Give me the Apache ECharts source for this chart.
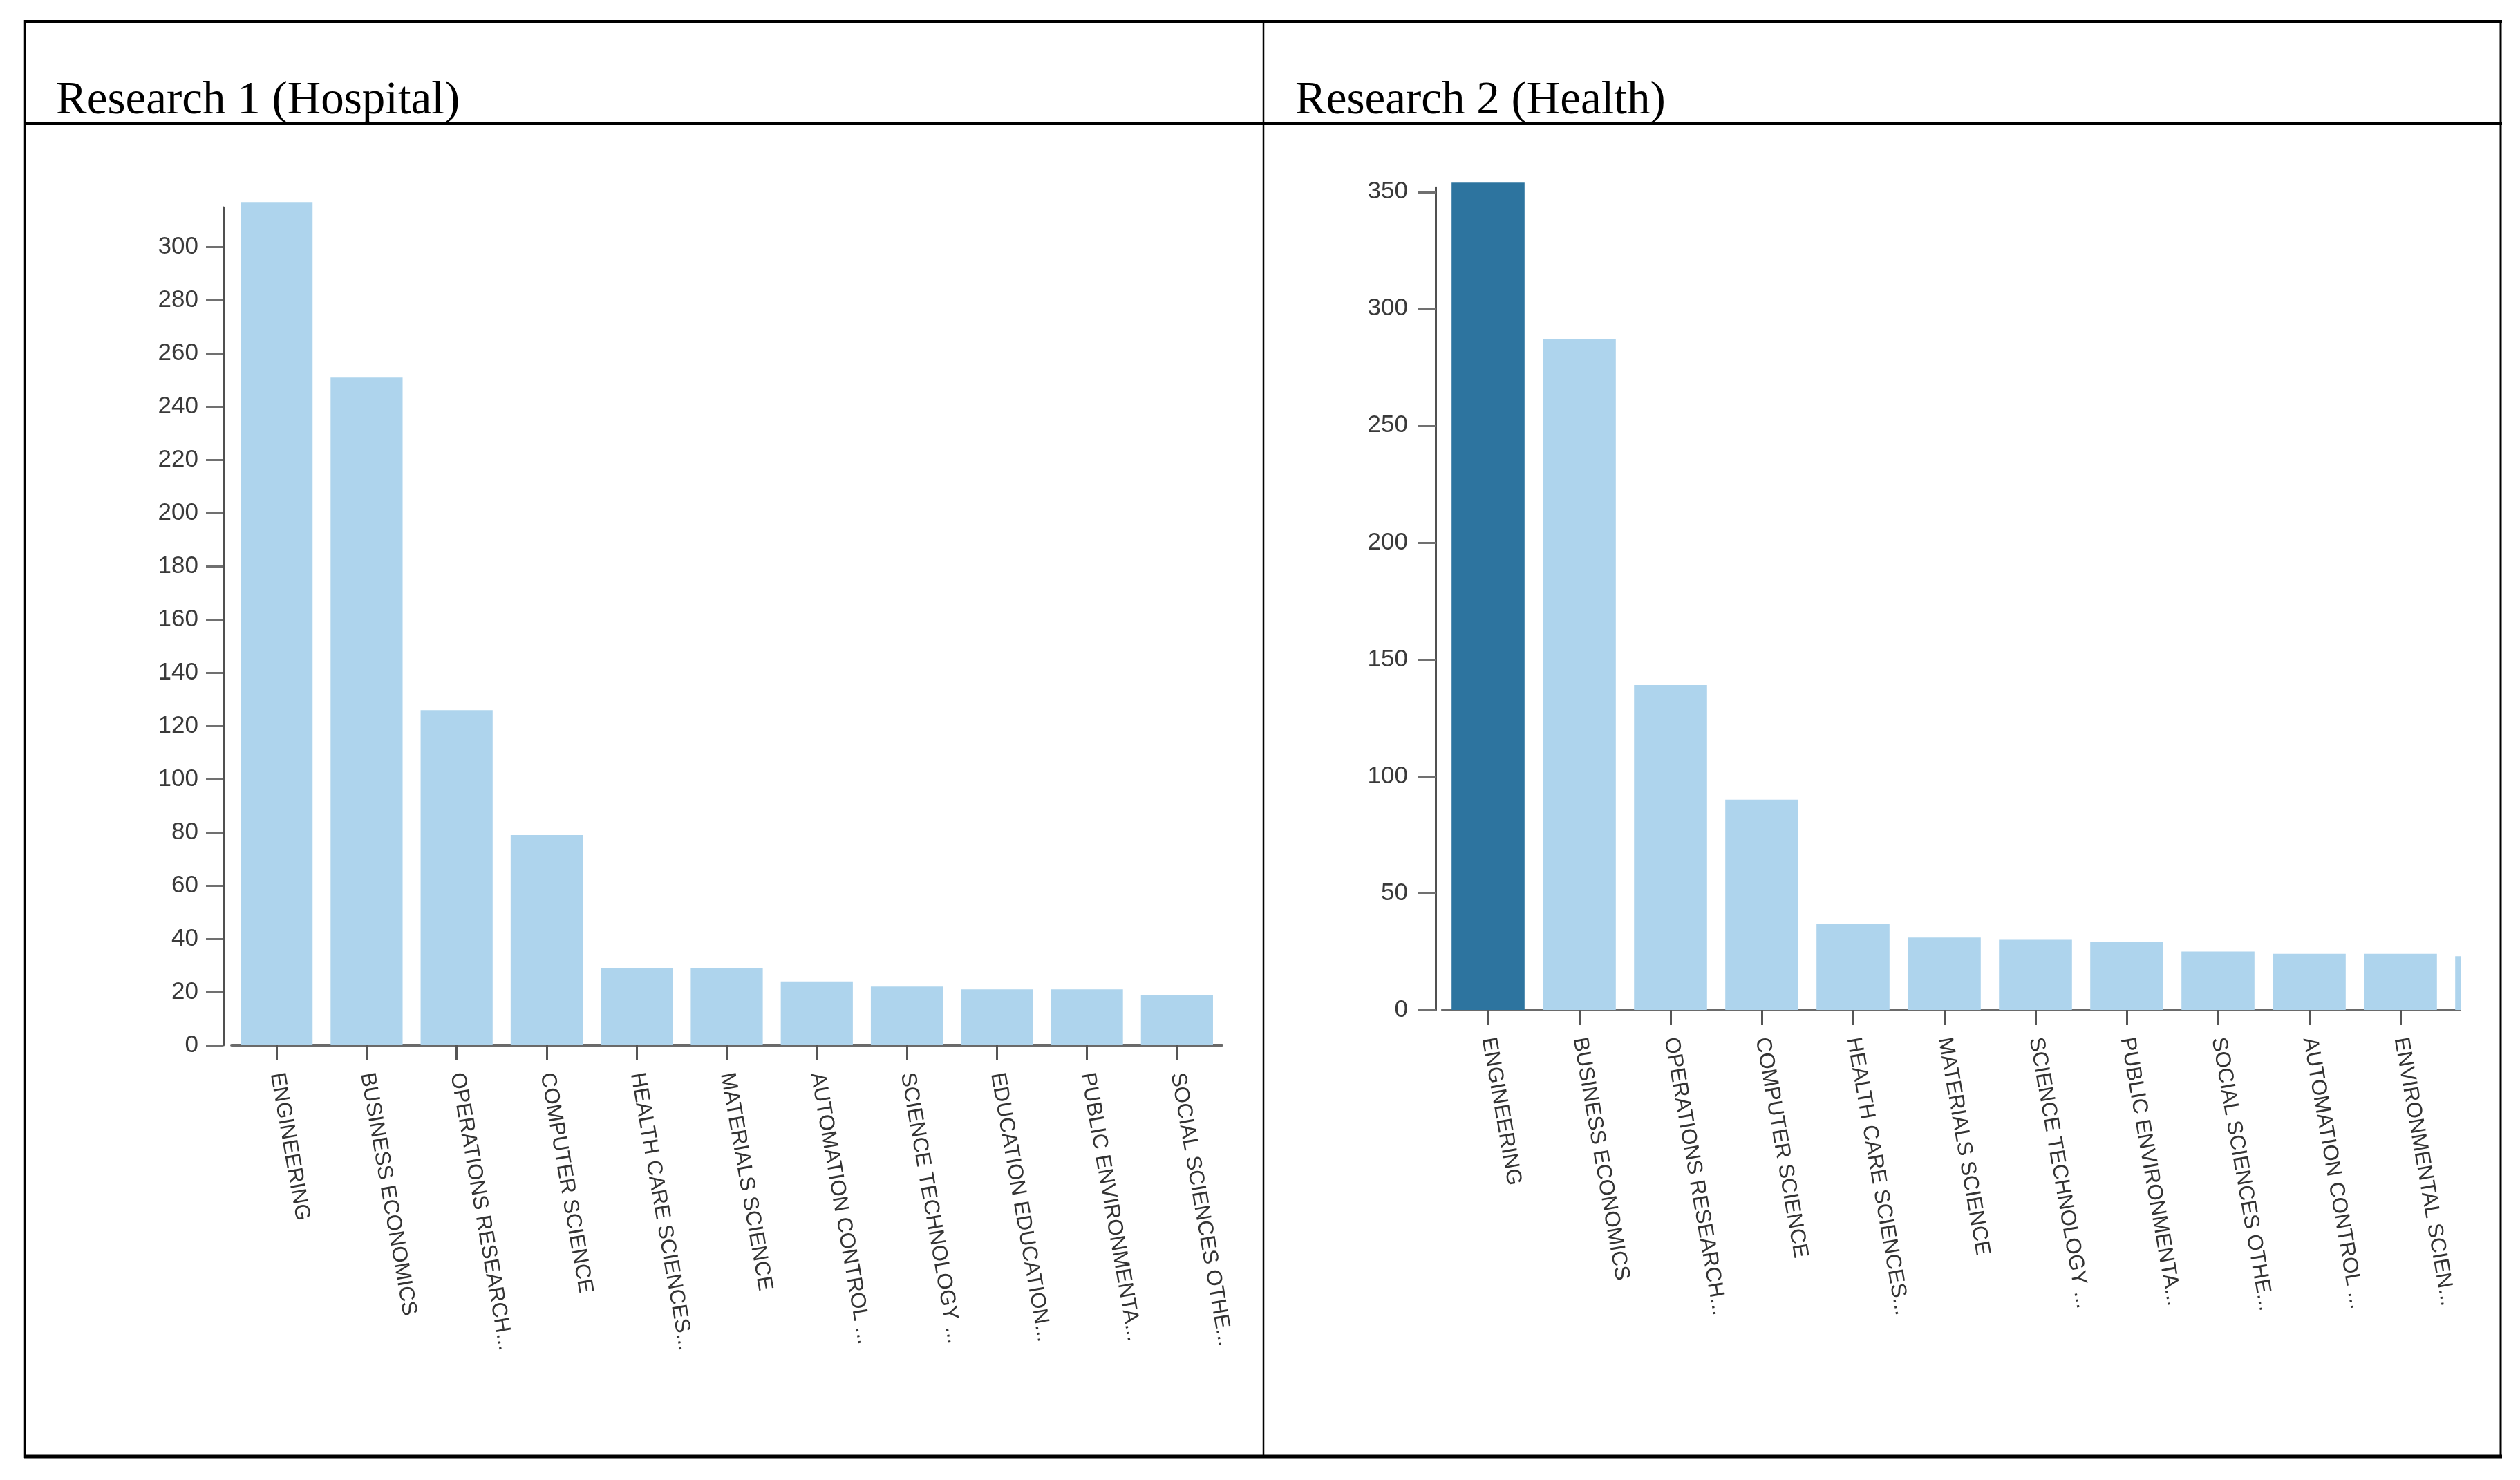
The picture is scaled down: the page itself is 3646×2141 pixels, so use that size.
<!DOCTYPE html>
<html><head><meta charset="utf-8">
<script src="https://cdn.jsdelivr.net/npm/echarts@6/dist/echarts.min.js"></script>
<style>html,body{margin:0;padding:0;background:#fff;overflow:hidden}#c{width:3700px;height:2141px}</style>
</head><body><div id="c"></div>
<script>
const titles = ['Research 1 (Hospital)', 'Research 2 (Health)'];

const categories1 = ['ENGINEERING', 'BUSINESS ECONOMICS', 'OPERATIONS RESEARCH...', 'COMPUTER SCIENCE',
  'HEALTH CARE SCIENCES...', 'MATERIALS SCIENCE', 'AUTOMATION CONTROL ...', 'SCIENCE TECHNOLOGY ...',
  'EDUCATION EDUCATION...', 'PUBLIC ENVIRONMENTA...', 'SOCIAL SCIENCES OTHE...'];
const values1 = [317, 251, 126, 79, 29, 29, 24, 22, 21, 21, 19];
const yMax1 = 315;
const yInterval1 = 20;

const categories2 = ['ENGINEERING', 'BUSINESS ECONOMICS', 'OPERATIONS RESEARCH...', 'COMPUTER SCIENCE',
  'HEALTH CARE SCIENCES...', 'MATERIALS SCIENCE', 'SCIENCE TECHNOLOGY ...', 'PUBLIC ENVIRONMENTA...',
  'SOCIAL SCIENCES OTHE...', 'AUTOMATION CONTROL ...', 'ENVIRONMENTAL SCIEN...', ''];
const values2 = [354, 287, 139, 90, 37, 31, 30, 29, 25, 24, 24, 23];
const yMax2 = 352;
const yInterval2 = 50;
const highlightIndex2 = 0;

const LIGHT = '#aed4ed';
const DARK = '#2d749f';
const SANS = '"Liberation Sans", Arial, sans-serif';
const SERIF = '67px "Liberation Serif", "Times New Roman", serif';

function yAxisCfg(gridIndex, max, interval, offset, margin) {
  return {
    type: 'value', gridIndex, min: 0, max, interval, offset,
    splitLine: { show: false },
    axisLine: { show: true, lineStyle: { color: '#505050', width: 3 } },
    axisTick: { show: true, length: 25, lineStyle: { color: '#707070', width: 3 } },
    axisLabel: { showMaxLabel: false, margin, fontSize: 35, fontFamily: SANS, color: '#3a3a3a' }
  };
}
function xAxisCfg(gridIndex, data) {
  return {
    type: 'category', gridIndex, data,
    axisLine: { show: true, lineStyle: { color: '#6a6a6a', width: 4 } },
    axisTick: { show: true, alignWithLabel: true, length: 22, lineStyle: { color: '#555', width: 3 } },
    axisLabel: { interval: 0, rotate: -80, margin: 40, fontSize: 31, fontFamily: SANS, color: '#333', hideOverlap: false }
  };
}

const chart = echarts.init(document.getElementById('c'), null, { renderer: 'canvas' });
chart.setOption({
  backgroundColor: '#fff',
  animation: false,
  grid: [
    { left: 335, top: 300, width: 1433, height: 1212, containLabel: false },
    { left: 2087, top: 271, width: 1584, height: 1190, containLabel: false }
  ],
  xAxis: [xAxisCfg(0, categories1), xAxisCfg(1, categories2)],
  yAxis: [yAxisCfg(0, yMax1, yInterval1, 12, 36), yAxisCfg(1, yMax2, yInterval2, 10, 40)],
  series: [
    { type: 'bar', xAxisIndex: 0, yAxisIndex: 0, data: values1, barCategoryGap: '20%', clip: false,
      itemStyle: { color: LIGHT }, z: 1 },
    { type: 'bar', xAxisIndex: 1, yAxisIndex: 1, barCategoryGap: '20%', clip: false,
      data: values2.map((v, i) => i === highlightIndex2 ? { value: v, itemStyle: { color: DARK } } : v),
      itemStyle: { color: LIGHT }, z: 1 }
  ],
  graphic: [
    { type: 'rect', z: 100, shape: { x: 3560, y: 190, width: 140, height: 1912 }, style: { fill: '#fff' } },
    { type: 'line', z: 101, shape: { x1: 35, y1: 31, x2: 3620, y2: 31 }, style: { stroke: '#000', lineWidth: 4 } },
    { type: 'line', z: 101, shape: { x1: 35, y1: 179, x2: 3620, y2: 179 }, style: { stroke: '#000', lineWidth: 4 } },
    { type: 'line', z: 101, shape: { x1: 35, y1: 2107, x2: 3620, y2: 2107 }, style: { stroke: '#000', lineWidth: 5 } },
    { type: 'line', z: 101, shape: { x1: 36, y1: 29, x2: 36, y2: 2109 }, style: { stroke: '#000', lineWidth: 2.5 } },
    { type: 'line', z: 101, shape: { x1: 1828, y1: 29, x2: 1828, y2: 2109 }, style: { stroke: '#000', lineWidth: 2.5 } },
    { type: 'line', z: 101, shape: { x1: 3618, y1: 29, x2: 3618, y2: 2109 }, style: { stroke: '#000', lineWidth: 3 } },
    { type: 'text', z: 101, x: 81, y: 146, style: { text: titles[0], font: SERIF, fill: '#000', align: 'left', verticalAlign: 'middle' } },
    { type: 'text', z: 101, x: 1874, y: 146, style: { text: titles[1], font: SERIF, fill: '#000', align: 'left', verticalAlign: 'middle' } }
  ]
});
</script>
</body></html>
